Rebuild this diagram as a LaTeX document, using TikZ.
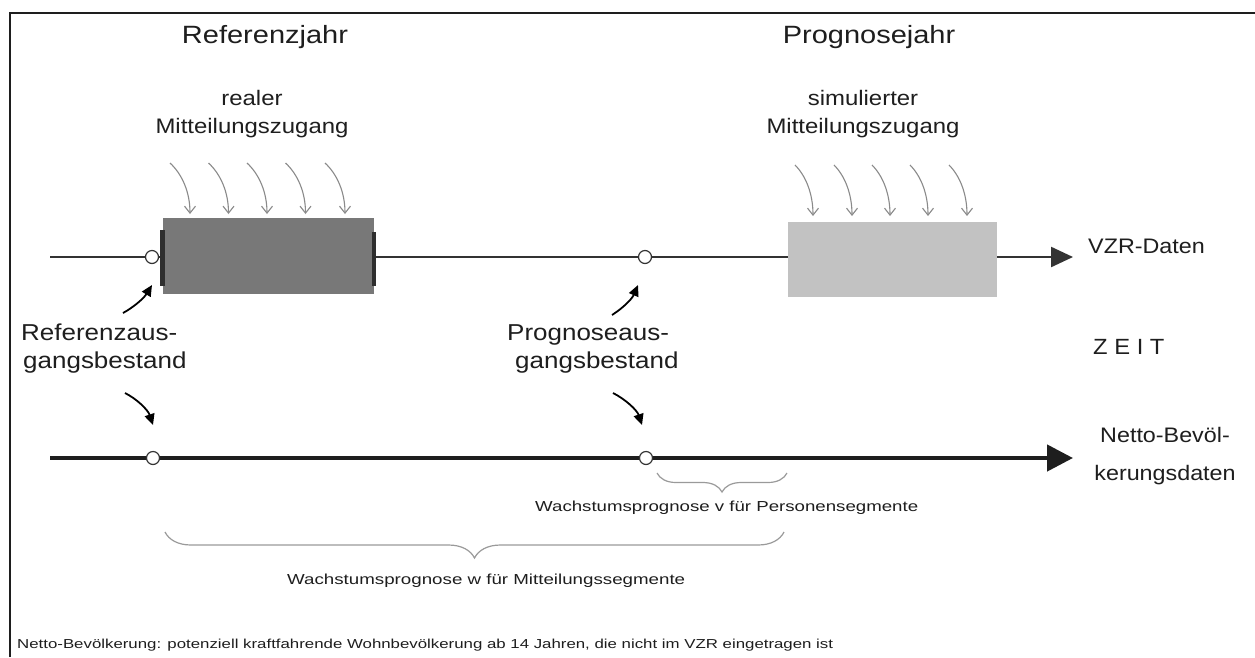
\documentclass[tikz,border=0pt]{standalone}
\usepackage{fontspec}
\usepackage{graphicx}
\setmainfont{Liberation Sans}
\usetikzlibrary{arrows.meta,decorations.pathreplacing}

% text stretched horizontally by a factor: {factor}{size}{text}
\newcommand{\sxt}[3]{\scalebox{#1}[1]{\fontsize{#2}{#2}\selectfont #3}}
% text stretched to a given width: {width}{size}{text}
\newcommand{\wxt}[3]{\resizebox{#1}{\height}{\fontsize{#2}{#2}\selectfont #3}}

\definecolor{ink}{HTML}{1E1E1E}
\definecolor{lineclr}{HTML}{333333}
\definecolor{darkbox}{HTML}{787878}
\definecolor{darkedge}{HTML}{2E2E2E}
\definecolor{lightbox}{HTML}{C2C2C2}
\definecolor{feedclr}{HTML}{8A8A8A}
\definecolor{braceclr}{HTML}{9A9A9A}

\begin{document}
\begin{tikzpicture}[x=1pt,y=-1pt,
  lbl/.style={inner sep=0pt, text=ink},
  frame/.style={draw=ink, line width=1.5pt},
  axisthin/.style={draw=lineclr, line width=2.3pt, -{Triangle[length=22pt,width=20pt]}},
  axisthick/.style={draw=ink, line width=4.5pt, -{Triangle[length=26pt,width=26pt]}},
  dot/.style={circle, draw=lineclr, line width=1.2pt, fill=white, minimum size=13pt, inner sep=0pt},
  feed/.style={draw=feedclr, line width=1.1pt, -{Straight Barb[length=7pt,width=11pt]}},
  pointer/.style={draw=black, line width=1.8pt, -{Triangle[length=11pt,width=10pt]}},
  span/.style={draw=braceclr, line width=1.2pt, decorate},
]
\useasboundingbox (0,0) rectangle (1255,657);
\fill[white] (0,0) rectangle (1255,657);

% outer frame (top and left edges)
\draw[frame] (10,657) -- (10,13) -- (1255,13);

% headings
\node[lbl, anchor=base] (hRef) at (265,43) {\sxt{1.16}{25}{Referenzjahr}};
\node[lbl, anchor=base] (hProg) at (869,43) {\sxt{1.16}{25}{Prognosejahr}};

\node[lbl, anchor=base] (inRa) at (252,105) {\sxt{1.14}{21}{realer}};
\node[lbl, anchor=base] (inRb) at (252,133) {\sxt{1.14}{21}{Mitteilungszugang}};
\node[lbl, anchor=base] (inSa) at (863,105) {\sxt{1.14}{21}{simulierter}};
\node[lbl, anchor=base] (inSb) at (863,133) {\sxt{1.14}{21}{Mitteilungszugang}};

% VZR time axis
\coordinate (vStart) at (50,257);
\coordinate (vEnd) at (1073,257);
\draw[axisthin] (vStart) -- (vEnd);

% reference year block
\node[fill=darkbox, minimum width=211pt, minimum height=76pt, inner sep=0pt,
      anchor=north west] (refBox) at (163,218) {};
\fill[darkedge] (159.5,230) rectangle (165,286);
\fill[darkedge] (371.5,232) rectangle (376,286);

% forecast year block
\node[fill=lightbox, minimum width=209pt, minimum height=75pt, inner sep=0pt,
      anchor=north west] (progBox) at (788,222) {};

% incoming notifications
\foreach \x in {170,208.5,247,285.5,325}
  \draw[feed] (\x,163) .. controls (\x+12,174) and (\x+20,192) .. (\x+20,214);
\foreach \x in {795,834,872,910,949}
  \draw[feed] (\x,165) .. controls (\x+11,176) and (\x+18,194) .. (\x+18,216);

% start markers on the VZR axis
\node[dot] (mRefTop) at (152,257) {};
\node[dot] (mProgTop) at (645,257) {};

\node[lbl, anchor=base west] (lVzr) at (1088,253) {\sxt{1.11}{21}{VZR-Daten}};
\node[lbl, anchor=base west] (lZeit) at (1093,354) {\sxt{1.08}{22}{Z E I T}};

% population axis
\coordinate (pStart) at (50,458);
\coordinate (pEnd) at (1073,458);
\draw[axisthick] (pStart) -- (pEnd);
\node[dot] (mRefBot) at (153,458) {};
\node[dot] (mProgBot) at (646,458) {};

\node[lbl, anchor=base] (lNetA) at (1165,442) {\sxt{1.11}{21}{Netto-Bevöl-}};
\node[lbl, anchor=base] (lNetB) at (1165,480) {\sxt{1.11}{21}{kerungsdaten}};

% stock labels
\node[lbl, anchor=base west] (sRefA) at (21,340) {\sxt{1.13}{23}{Referenzaus-}};
\node[lbl, anchor=base west] (sRefB) at (23,368) {\sxt{1.13}{23}{gangsbestand}};
\node[lbl, anchor=base west] (sProgA) at (507,340) {\sxt{1.13}{23}{Prognoseaus-}};
\node[lbl, anchor=base west] (sProgB) at (515,368) {\sxt{1.13}{23}{gangsbestand}};

% pointers from the labels towards the markers
\coordinate (pRefUp) at (123,313);
\coordinate (tRefUp) at (152,285);
\coordinate (pRefDn) at (125,393);
\coordinate (tRefDn) at (153,425);
\coordinate (pProgUp) at (612,315);
\coordinate (tProgUp) at (638,285);
\coordinate (pProgDn) at (613,393);
\coordinate (tProgDn) at (642,425);
\draw[pointer] (pRefUp) .. controls (134,307) and (144,298) .. (tRefUp);
\draw[pointer] (pRefDn) .. controls (137,399) and (148,410) .. (tRefDn);
\draw[pointer] (pProgUp) .. controls (623,308) and (632,299) .. (tProgUp);
\draw[pointer] (pProgDn) .. controls (625,399) and (637,410) .. (tProgDn);

% growth spans
\draw[span, decoration={brace,amplitude=19pt}] (787,473) -- (657,473);
\node[lbl, anchor=base west] (gV) at (535,511)
  {\wxt{383pt}{14.5}{Wachstumsprognose v für Personensegmente}};
\draw[span, decoration={brace,amplitude=26pt}] (784,532) -- (165,532);
\node[lbl, anchor=base west] (gW) at (287,584)
  {\wxt{398pt}{14.5}{Wachstumsprognose w für Mitteilungssegmente}};

% footnote
\node[lbl, anchor=base west] (fn) at (17,648)
  {\wxt{816pt}{13}{Netto-Bevölkerung: potenziell kraftfahrende Wohnbevölkerung ab 14 Jahren, die nicht im VZR eingetragen ist}};
\end{tikzpicture}
\end{document}
